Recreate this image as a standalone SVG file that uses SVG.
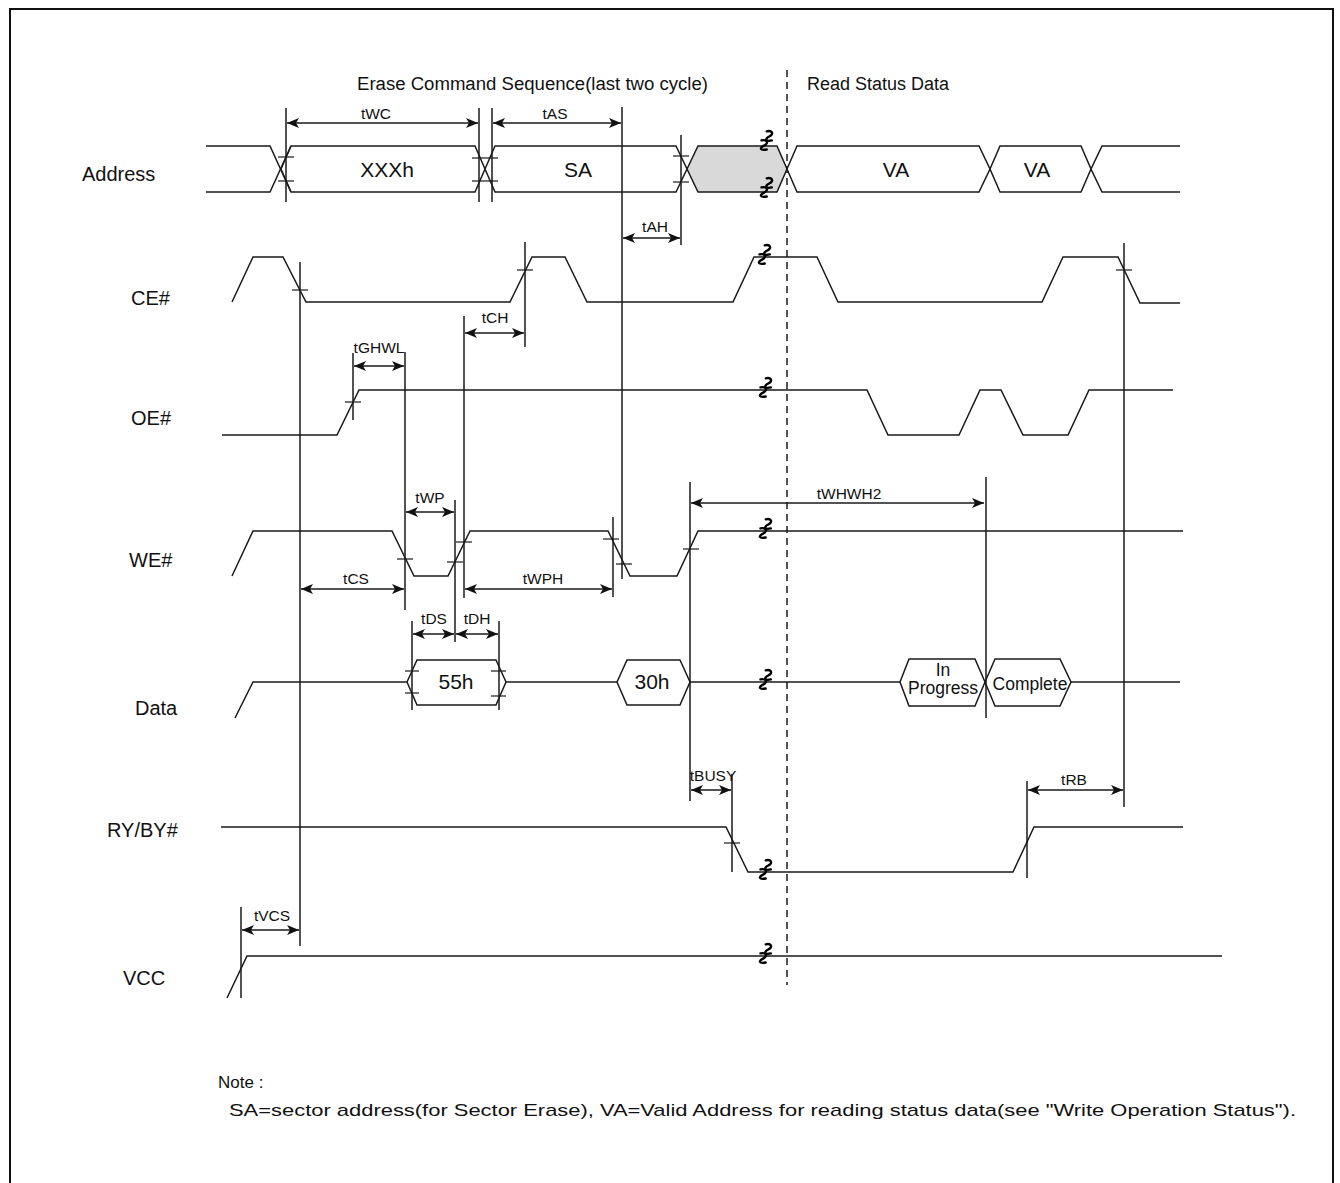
<svg xmlns="http://www.w3.org/2000/svg" width="1340" height="1183" viewBox="0 0 1340 1183">
<style>
.sig{fill:none;stroke:#1a1a1a;stroke-width:1.5;stroke-linejoin:miter}
.gray{fill:#d9d9d9;stroke:#1a1a1a;stroke-width:1.5}
.ref{stroke:#1a1a1a;stroke-width:1.5;fill:none}
.tick{stroke:#1a1a1a;stroke-width:1.2}
.dim{stroke:#1a1a1a;stroke-width:1.5;marker-start:url(#ah);marker-end:url(#ah)}
.dash{stroke:#1a1a1a;stroke-width:1.5;stroke-dasharray:7 5}
.brk{fill:none;stroke:#000;stroke-width:1.8;stroke-linecap:round}
text{font-family:"Liberation Sans",Arial,sans-serif;fill:#111}
.name{font-size:20px}
.lbl{font-size:15.5px;text-anchor:middle}
.val{font-size:21px;text-anchor:middle}
.hdr{font-size:18px}
.st{font-size:17.5px;text-anchor:middle}
</style>
<defs>
<marker id="ah" markerUnits="userSpaceOnUse" markerWidth="12" markerHeight="10" refX="12" refY="5" orient="auto-start-reverse">
<path d="M0,0 L12,5 L0,10 L3,5 Z" fill="#111"/>
</marker>
<g id="brk" transform="scale(1.3)">
<path class="brk" d="M-1,-9 c4,-1 6,2 2,4 c-4,2 -3,4 2,3"/>
<path class="brk" d="M-5,-2 c4,-1 6,2 2,4 c-4,2 -3,4 2,3"/>
</g>
</defs>
<rect x="10" y="9" width="1323" height="1200" fill="none" stroke="#111" stroke-width="2"/>

<text class="hdr" x="357" y="90" textLength="351" lengthAdjust="spacingAndGlyphs">Erase Command Sequence(last two cycle)</text>
<text class="hdr" x="807" y="90">Read Status Data</text>

<g id="names">
<text class="name" x="82" y="181">Address</text>
<text class="name" x="131" y="305">CE#</text>
<text class="name" x="131" y="425">OE#</text>
<text class="name" x="129" y="567">WE#</text>
<text class="name" x="135" y="715">Data</text>
<text class="name" x="107" y="837">RY/BY#</text>
<text class="name" x="123" y="985">VCC</text>
</g>

<g id="address">
<polyline class="sig" points="206,146 270,146 291,192"/>
<polyline class="sig" points="206,192 270,192 291,146"/>
<polygon class="sig" points="281,169 291,146 475,146 485,169 475,192 291,192"/>
<polygon class="sig" points="485,169 495,146 676,146 687,169 676,192 495,192"/>
<polygon class="gray" points="687,169 698,146 777,146 787,169 777,192 698,192"/>
<polygon class="sig" points="787,169 797,146 979,146 990,169 979,192 797,192"/>
<polygon class="sig" points="990,169 1000,146 1081,146 1091,169 1081,192 1000,192"/>
<polyline class="sig" points="1180,146 1102,146 1091,169 1102,192 1180,192"/>
<text class="val" x="387" y="177">XXXh</text>
<text class="val" x="578" y="177">SA</text>
<text class="val" x="896" y="177">VA</text>
<text class="val" x="1037" y="177">VA</text>
</g>

<g id="ce">
<polyline class="sig" points="232,302 253,257 283,257 306,302 510,302 532,257 565,257 587,302 733,302 754,257 817,257 838,302 1042,302 1063,257 1118,257 1140,303 1180,303"/>
</g>

<g id="oe">
<polyline class="sig" points="222,435 337,435 359,390 867,390 888,435 959,435 980,390 1001,390 1023,435 1068,435 1089,390 1173,390"/>
</g>

<g id="we">
<polyline class="sig" points="232,576 253,531 392,531 414,576 448,576 470,531 608,531 630,576 677,576 698,531 1183,531"/>
</g>

<g id="data">
<polyline class="sig" points="235,718 253,682 407,682"/>
<polygon class="sig" points="407,682 417,660 496,660 506,682 496,705 417,705"/>
<line class="sig" x1="506" y1="682" x2="617" y2="682"/>
<polygon class="sig" points="617,682 627,660 680,660 690,682 680,705 627,705"/>
<line class="sig" x1="690" y1="682" x2="900" y2="682"/>
<polygon class="sig" points="900,682 909,659 975,659 985,682 975,706 909,706"/>
<polygon class="sig" points="985,682 995,659 1060,659 1071,682 1060,706 995,706"/>
<line class="sig" x1="1071" y1="682" x2="1180" y2="682"/>
<text class="val" x="456" y="689">55h</text>
<text class="val" x="652" y="689">30h</text>
<text class="st" x="943" y="676">In</text>
<text class="st" x="943" y="694">Progress</text>
<text class="st" x="1030" y="690">Complete</text>
</g>

<g id="ryby">
<polyline class="sig" points="221,827 726,827 748,872 1013,872 1034,827 1183,827"/>
</g>

<g id="vcc">
<polyline class="sig" points="227,998 247,956 1222,956"/>
</g>

<g id="breaks">
<use href="#brk" x="768" y="143"/>
<use href="#brk" x="768" y="190"/>
<use href="#brk" x="766" y="257"/>
<use href="#brk" x="767" y="390"/>
<use href="#brk" x="767" y="531"/>
<use href="#brk" x="767" y="682"/>
<use href="#brk" x="767" y="872"/>
<use href="#brk" x="767" y="956"/>
</g>

<g id="references">
<line class="dash" x1="787" y1="70" x2="787" y2="985"/>
<line class="ref" x1="286" y1="108" x2="286" y2="202"/>
<line class="ref" x1="479" y1="108" x2="479" y2="202"/>
<line class="ref" x1="492" y1="108" x2="492" y2="202"/>
<line class="ref" x1="622" y1="107" x2="622" y2="579"/>
<line class="ref" x1="681" y1="135" x2="681" y2="245"/>
<line class="ref" x1="300" y1="262" x2="300" y2="946"/>
<line class="ref" x1="525" y1="242" x2="525" y2="347"/>
<line class="ref" x1="464" y1="316" x2="464" y2="598"/>
<line class="ref" x1="353" y1="353" x2="353" y2="420"/>
<line class="ref" x1="405" y1="352" x2="405" y2="610"/>
<line class="ref" x1="455" y1="500" x2="455" y2="642"/>
<line class="ref" x1="613" y1="517" x2="613" y2="597"/>
<line class="ref" x1="690" y1="482" x2="690" y2="801"/>
<line class="ref" x1="986" y1="477" x2="986" y2="718"/>
<line class="ref" x1="1124" y1="243" x2="1124" y2="807"/>
<line class="ref" x1="412" y1="621" x2="412" y2="710"/>
<line class="ref" x1="499" y1="621" x2="499" y2="710"/>
<line class="ref" x1="732" y1="774" x2="732" y2="872"/>
<line class="ref" x1="1027" y1="781" x2="1027" y2="878"/>
<line class="ref" x1="241" y1="907" x2="241" y2="998"/>
</g>

<g id="ticks">
<line class="tick" x1="278" y1="157" x2="294" y2="157"/>
<line class="tick" x1="278" y1="181" x2="294" y2="181"/>
<line class="tick" x1="472" y1="158" x2="498" y2="158"/>
<line class="tick" x1="472" y1="181" x2="498" y2="181"/>
<line class="tick" x1="673" y1="156" x2="689" y2="156"/>
<line class="tick" x1="673" y1="182" x2="689" y2="182"/>
<line class="tick" x1="292" y1="290" x2="308" y2="290"/>
<line class="tick" x1="517" y1="270" x2="533" y2="270"/>
<line class="tick" x1="1116" y1="270" x2="1132" y2="270"/>
<line class="tick" x1="345" y1="402" x2="361" y2="402"/>
<line class="tick" x1="397" y1="559" x2="413" y2="559"/>
<line class="tick" x1="447" y1="562" x2="463" y2="562"/>
<line class="tick" x1="456" y1="542" x2="472" y2="542"/>
<line class="tick" x1="603" y1="539" x2="619" y2="539"/>
<line class="tick" x1="616" y1="564" x2="632" y2="564"/>
<line class="tick" x1="683" y1="549" x2="699" y2="549"/>
<line class="tick" x1="405" y1="671" x2="419" y2="671"/>
<line class="tick" x1="405" y1="693" x2="419" y2="693"/>
<line class="tick" x1="491" y1="671" x2="506" y2="671"/>
<line class="tick" x1="491" y1="696" x2="506" y2="696"/>
<line class="tick" x1="724" y1="843" x2="740" y2="843"/>
</g>

<g id="timings">
<line class="dim" x1="287" y1="123" x2="478" y2="123"/>
<text class="lbl" x="376" y="119">tWC</text>
<line class="dim" x1="493" y1="123" x2="621" y2="123"/>
<text class="lbl" x="555" y="119">tAS</text>
<line class="dim" x1="623" y1="238" x2="680" y2="238"/>
<text class="lbl" x="655" y="232">tAH</text>
<line class="dim" x1="465" y1="333" x2="524" y2="333"/>
<text class="lbl" x="495" y="323">tCH</text>
<line class="dim" x1="354" y1="366" x2="404" y2="366"/>
<text class="lbl" x="379" y="353">tGHWL</text>
<line class="dim" x1="406" y1="512" x2="454" y2="512"/>
<text class="lbl" x="430" y="503">tWP</text>
<line class="dim" x1="301" y1="589" x2="404" y2="589"/>
<text class="lbl" x="356" y="584">tCS</text>
<line class="dim" x1="465" y1="589" x2="612" y2="589"/>
<text class="lbl" x="543" y="584">tWPH</text>
<line class="dim" x1="691" y1="503" x2="984" y2="503"/>
<text class="lbl" x="849" y="499">tWHWH2</text>
<line class="dim" x1="413" y1="634" x2="454" y2="634"/>
<text class="lbl" x="434" y="624">tDS</text>
<line class="dim" x1="456" y1="634" x2="498" y2="634"/>
<text class="lbl" x="477" y="624">tDH</text>
<line class="dim" x1="691" y1="790" x2="731" y2="790"/>
<text class="lbl" x="713" y="781">tBUSY</text>
<line class="dim" x1="1028" y1="790" x2="1123" y2="790"/>
<text class="lbl" x="1074" y="785">tRB</text>
<line class="dim" x1="242" y1="930" x2="299" y2="930"/>
<text class="lbl" x="272" y="921">tVCS</text>
</g>

<g id="note">
<text x="218" y="1088" style="font-size:17px">Note :</text>
<text x="229" y="1116" style="font-size:17px" textLength="1067" lengthAdjust="spacingAndGlyphs">SA=sector address(for Sector Erase), VA=Valid Address for reading status data(see "Write Operation Status").</text>
</g>
</svg>
